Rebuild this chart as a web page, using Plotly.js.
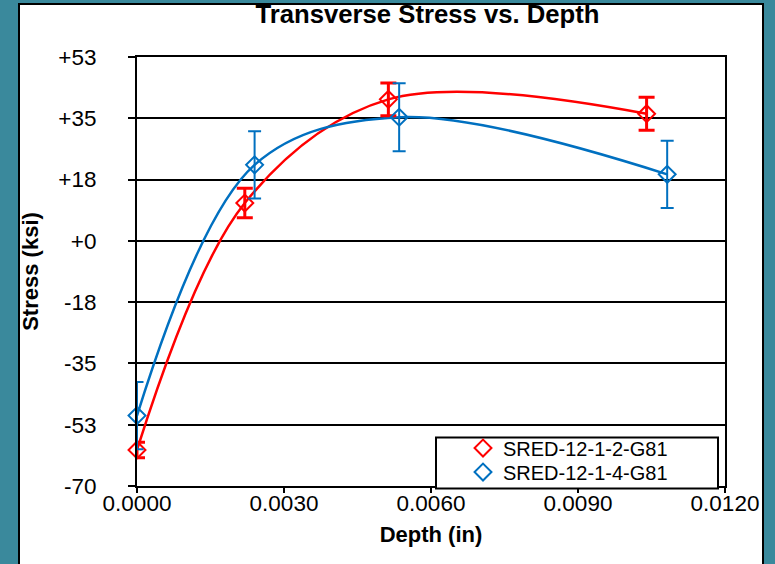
<!DOCTYPE html>
<html>
<head>
<meta charset="utf-8">
<script src="https://cdn.plot.ly/plotly-3.0.1.min.js"></script>
<style>
  html, body { margin: 0; padding: 0; width: 775px; height: 564px; overflow: hidden; background: #3a899c; }
  #frame { position: absolute; left: 18px; top: 3px; width: 742px; height: 570px;
           border: 2px solid #000; background: #fff; }
  #chart { position: absolute; left: -20px; top: -5px; width: 775px; height: 564px; }
</style>
</head>
<body>
<div id="frame"><div id="chart"></div></div>
<script>
// Measured transverse residual stress (ksi) against depth below surface (in)
const seriesNames = ['SRED-12-1-2-G81', 'SRED-12-1-4-G81'];

const depthA  = [0.0000, 0.0022, 0.00513, 0.0104];
const stressA = [-59.7, 10.8, 40.4, 36.3];
const errorA  = [2.2, 4.2, 4.7, 4.7];

const depthB  = [0.0000, 0.0024, 0.00535, 0.01082];
const stressB = [-49.9, 21.7, 35.3, 19.0];
const errorB  = [9.6, 9.6, 9.7, 9.6];

// Stress axis ticks every 17.5 ksi, labelled with a sign and rounded
const stressTicks = [-70, -52.5, -35, -17.5, 0, 17.5, 35, 52.5];
const stressTickText = ['-70', '-53', '-35', '-18', '+0', '+18', '+35', '+53'];

const RED = '#ff0000';
const BLUE = '#0070c0';
const FONT = 'Liberation Sans, Arial, Helvetica, sans-serif';

function curve(x, y, color) {
  return {
    x: x, y: y, type: 'scatter', mode: 'lines', showlegend: false, hoverinfo: 'skip',
    line: { color: color, width: 2.5, shape: 'spline', smoothing: 1 },
    cliponaxis: false
  };
}
function points(x, y, err, name, color, thick, cap, legendId) {
  return {
    x: x, y: y, name: name, type: 'scatter', mode: 'markers', cliponaxis: false,
    legend: legendId,
    marker: { symbol: 'diamond-open', size: 13, color: color, line: { width: 2, color: color } },
    error_y: { type: 'data', array: err, visible: true, color: color, thickness: thick, width: cap }
  };
}

const traces = [
  curve(depthA, stressA, RED),
  curve(depthB, stressB, BLUE),
  points(depthA, stressA, errorA, seriesNames[0], RED, 3, 8, 'legend'),
  points(depthB, stressB, errorB, seriesNames[1], BLUE, 2, 6.5, 'legend2')
];

// plot area in page pixels: x 137..725, y 57..486.5
const L = 137, R = 725, T = 57, B = 486.5;
const px = v => (v - L) / (R - L);
const py = v => (B - v) / (B - T);

const legendStyle = top => ({
  x: px(463), xanchor: 'left', y: py(top), yanchor: 'top',
  bgcolor: 'rgba(0,0,0,0)', borderwidth: 0,
  font: { family: FONT, size: 20, color: '#000' }
});

const layout = {
  width: 775, height: 564,
  margin: { l: L, r: 775 - R, t: T, b: 564 - B, pad: 0 },
  paper_bgcolor: 'rgba(0,0,0,0)',
  plot_bgcolor: '#ffffff',
  font: { family: FONT, color: '#000' },
  title: {
    text: '<b>Transverse Stress vs. Depth</b>',
    font: { family: FONT, size: 25.7, color: '#000' },
    xref: 'container', yref: 'container',
    x: 427.5 / 775, xanchor: 'center',
    y: 1 - 5 / 564, yanchor: 'top'
  },
  xaxis: {
    range: [0, 0.012], tickmode: 'linear', tick0: 0, dtick: 0.003, tickformat: '.4f',
    showgrid: false, zeroline: false,
    showline: true, linecolor: '#000', linewidth: 2, mirror: true,
    ticks: 'outside', ticklen: 5, tickwidth: 2, tickcolor: '#000',
    tickfont: { family: FONT, size: 22.5, color: '#000' },
    ticklabelstandoff: -9,
    title: { text: '<b>Depth (in)</b>', font: { family: FONT, size: 22, color: '#000' }, standoff: 12 }
  },
  yaxis: {
    range: [-70, 52.5], tickmode: 'array', tickvals: stressTicks, ticktext: stressTickText,
    showgrid: true, gridcolor: '#000', gridwidth: 2,
    zeroline: true, zerolinecolor: '#000', zerolinewidth: 2,
    showline: true, linecolor: '#000', linewidth: 2, mirror: true,
    ticks: 'outside', ticklen: 7, tickwidth: 2, tickcolor: '#000',
    tickfont: { family: FONT, size: 22.5, color: '#000' },
    ticklabelstandoff: 27,
    title: { text: '<b>Stress (ksi)</b>', font: { family: FONT, size: 22, color: '#000' }, standoff: 14 }
  },
  shapes: [{
    type: 'rect', xref: 'paper', yref: 'paper', layer: 'above',
    x0: px(436), x1: px(718), y0: py(489), y1: py(438),
    fillcolor: '#ffffff', line: { color: '#000', width: 2 }
  }],
  legend: legendStyle(429),
  legend2: legendStyle(453),
  showlegend: true
};

Plotly.newPlot('chart', traces, layout, { staticPlot: true, displayModeBar: false });
</script>
</body>
</html>
